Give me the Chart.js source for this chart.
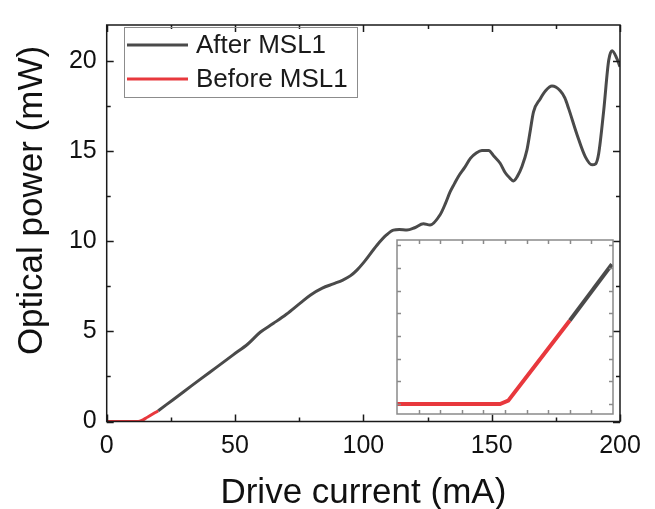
<!DOCTYPE html>
<html>
<head>
<meta charset="utf-8">
<script src="https://cdn.jsdelivr.net/npm/chart.js@4"></script>
<style>
  html, body { margin: 0; padding: 0; background: #fff; }
  #wrap { position: relative; width: 655px; height: 509px; }
  #main { position: absolute; left: 0; top: 0; }
  #inset { position: absolute; left: 390px; top: 234px; }
</style>
</head>
<body>
<div id="wrap">
  <canvas id="main" width="655" height="509"></canvas>
  <canvas id="inset" width="230" height="188"></canvas>
</div>
<script>
// --- data ---
const afterX = [20.1, 23.4, 30, 36.4, 43, 49.4, 55, 59.8, 65, 70, 75.4, 79.3, 84, 88.3, 92, 94.9, 97.5, 100,
  105.3, 109, 111.7, 114, 117, 120, 123.4, 126, 129.9, 132, 133.8, 135.5, 137.1, 139.5, 141.7, 144, 146.2,
  148.8, 151, 153.3, 155.3, 156.8, 158.5, 160, 161.8, 163.7, 165, 166.3, 168.9, 171, 173.5, 176.7, 178.5,
  180, 183.2, 186.5, 189.1, 190.5, 191.7, 193.6, 195.6, 196.9, 198.8, 200];
const afterY = [0.6, 0.95, 1.65, 2.34, 3.03, 3.71, 4.3, 4.95, 5.45, 5.95, 6.57, 7.01, 7.4, 7.64, 7.85, 8.08, 8.4, 8.8,
  9.78, 10.35, 10.62, 10.65, 10.62, 10.75, 10.97, 10.9, 11.47, 12.1, 12.74, 13.2, 13.61, 14.1, 14.6, 14.9, 15.04,
  15.04, 14.7, 14.33, 13.8, 13.55, 13.35, 13.6, 14.15, 15.04, 16.11, 17.18, 17.9, 18.35, 18.61, 18.35, 17.95,
  17.36, 15.94, 14.68, 14.24, 14.3, 14.87, 17.18, 20.04, 20.57, 20.13, 19.68];
const beforeX = [0, 12.3, 16, 20.1];
const beforeY = [0, 0, 0.25, 0.6];

// inset (zoom near threshold, arbitrary units, no labels)
const insetBeforeX = [0, 4.77, 5.15, 8.0];
const insetBeforeY = [0, 0, 0.146, 3.68];
const insetAfterX = [8.0, 9.95];
const insetAfterY = [3.68, 6.16];

const xMajor = [0, 50, 100, 150, 200];
const xMinor = [25, 75, 125, 175];
const yMajor = [0, 5, 10, 15, 20];
const yMinor = [2.5, 7.5, 12.5, 17.5];
const insetXTicks = [1, 2, 3, 4, 5, 6, 7, 8, 9];
const insetYTicks = [0, 1, 2, 3, 4, 5, 6, 7];

const xTitle = 'Drive current (mA)';
const yTitle = 'Optical power (mW)';

const GRAY = '#4a4a4a';
const RED = '#e8383d';
const FONT = "'Liberation Sans', Arial, sans-serif";

const pts = (xs, ys) => xs.map((x, i) => ({ x: x, y: ys[i] }));

// frame + inward ticks on all four sides
const frameTicks = {
  id: 'frameTicks',
  afterDatasetsDraw(chart, args, o) {
    const { ctx, chartArea: a, scales: { x, y } } = chart;
    ctx.save();
    ctx.strokeStyle = o.color;
    ctx.lineWidth = o.width;
    ctx.beginPath();
    const drawX = (vals, len) => vals.forEach(v => {
      const px = Math.round(x.getPixelForValue(v)) + 0.5;
      ctx.moveTo(px, a.bottom); ctx.lineTo(px, a.bottom - len);
      ctx.moveTo(px, a.top); ctx.lineTo(px, a.top + len);
    });
    const drawY = (vals, len) => vals.forEach(v => {
      const py = Math.round(y.getPixelForValue(v)) + 0.5;
      ctx.moveTo(a.left, py); ctx.lineTo(a.left + len, py);
      ctx.moveTo(a.right, py); ctx.lineTo(a.right - len, py);
    });
    drawX(o.xMajor, o.major); drawX(o.xMinor, o.minor);
    drawY(o.yMajor, o.major); drawY(o.yMinor, o.minor);
    ctx.stroke();
    ctx.strokeRect(a.left, a.top, a.right - a.left, a.bottom - a.top);
    ctx.restore();
  }
};

// boxed legend in the upper-left corner + axis titles
const legendBox = {
  id: 'legendBox',
  afterDraw(chart, args, o) {
    if (!o.show) return;
    const ctx = chart.ctx;
    const a = chart.chartArea;
    ctx.save();
    ctx.strokeStyle = '#8c8c8c';
    ctx.lineWidth = 1;
    ctx.strokeRect(124.5, 27.5, 233, 70);
    ctx.font = '26px ' + FONT;
    ctx.textBaseline = 'middle';
    ctx.fillStyle = '#1a1a1a';
    const rows = [45, 79];
    chart.data.datasets.forEach((ds, i) => {
      ctx.strokeStyle = ds.borderColor;
      ctx.lineWidth = 3;
      ctx.beginPath();
      ctx.moveTo(127, rows[i]); ctx.lineTo(188, rows[i]);
      ctx.stroke();
      ctx.fillText(ds.label, 196, rows[i] + 1);
    });

    // axis titles
    ctx.font = '35px ' + FONT;
    ctx.fillStyle = '#111';
    ctx.textAlign = 'center';
    ctx.textBaseline = 'alphabetic';
    ctx.fillText(xTitle, (a.left + a.right) / 2, 503);
    ctx.translate(42, 200.5);
    ctx.rotate(-Math.PI / 2);
    ctx.fillText(yTitle, 0, 0);
    ctx.restore();
  }
};

new Chart(document.getElementById('main'), {
  type: 'line',
  data: {
    datasets: [
      { label: 'After MSL1', data: pts(afterX, afterY), borderColor: GRAY, borderWidth: 3,
        pointRadius: 0, cubicInterpolationMode: 'monotone' },
      { label: 'Before MSL1', data: pts(beforeX, beforeY), borderColor: RED, borderWidth: 3,
        pointRadius: 0, cubicInterpolationMode: 'monotone' }
    ]
  },
  plugins: [frameTicks, legendBox],
  options: {
    responsive: false, animation: false,
    layout: { padding: { top: 10, right: 35, left: 0, bottom: 0 } },
    plugins: {
      legend: { display: false }, tooltip: { enabled: false },
      frameTicks: { color: '#1a1a1a', width: 1.5, major: 7, minor: 4, xMajor, xMinor, yMajor, yMinor },
      legendBox: { show: true }
    },
    scales: {
      x: {
        type: 'linear', min: 0, max: 200,
        afterBuildTicks: s => { s.ticks = xMajor.map(v => ({ value: v })); },
        afterFit: s => { s.height = 87.5; },
        grid: { display: false, drawTicks: false }, border: { display: false },
        ticks: { font: { family: FONT, size: 25 }, color: '#111', padding: 10, maxRotation: 0 }
      },
      y: {
        type: 'linear', min: 0, max: 22,
        afterBuildTicks: s => { s.ticks = yMajor.map(v => ({ value: v })); },
        afterFit: s => { s.width = 106.7; },
        grid: { display: false, drawTicks: false }, border: { display: false },
        ticks: { font: { family: FONT, size: 25 }, color: '#111', padding: 10 }
      }
    }
  }
});

new Chart(document.getElementById('inset'), {
  type: 'line',
  data: {
    datasets: [
      { label: 'After MSL1', data: pts(insetAfterX, insetAfterY), borderColor: GRAY, borderWidth: 4,
        pointRadius: 0, tension: 0 },
      { label: 'Before MSL1', data: pts(insetBeforeX, insetBeforeY), borderColor: RED, borderWidth: 4,
        pointRadius: 0, tension: 0 }
    ]
  },
  plugins: [frameTicks],
  options: {
    responsive: false, animation: false,
    layout: { padding: { left: 7, top: 6, right: 7, bottom: 8 } },
    plugins: {
      legend: { display: false }, tooltip: { enabled: false },
      frameTicks: { color: '#8a8a8a', width: 1.5, major: 4, minor: 4,
        xMajor: insetXTicks, xMinor: [], yMajor: insetYTicks, yMinor: [] }
    },
    scales: {
      x: { type: 'linear', min: 0, max: 10, display: false },
      y: { type: 'linear', min: -0.44, max: 7.23, display: false }
    }
  }
});
</script>
</body>
</html>
